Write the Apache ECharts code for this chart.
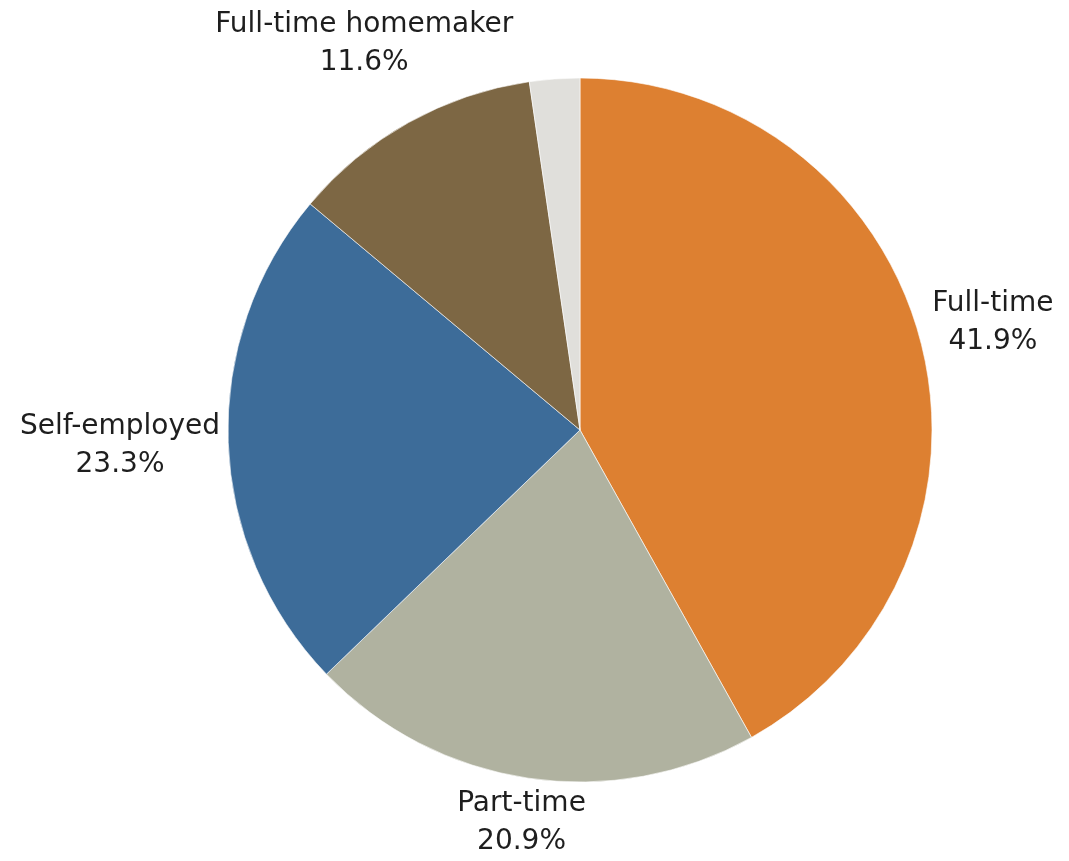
<!DOCTYPE html>
<html>
<head>
<meta charset="utf-8">
<title>Employment status</title>
<script src="https://cdn.jsdelivr.net/npm/echarts@6/dist/echarts.min.js"></script>
<style>
  html, body { margin: 0; padding: 0; background: #fff; }
  #chart { width: 1069px; height: 861px; }
</style>
</head>
<body>
<div id="chart"></div>
<script>
// data
var categories = ['Full-time', 'Part-time', 'Self-employed', 'Full-time homemaker', 'Other']
var shares = [41.9, 20.9, 23.3, 11.6, 2.3]
var showLabel = [true, true, true, true, false]
var colors = ['#dd8031', '#b0b2a0', '#3d6c99', '#7d6744', '#e0dfdb']

// layout
var center = [580, 430]
var radius = 352
var gap = 8

var chart = echarts.init(document.getElementById('chart'))

var pieData = categories.map(function (name, i) {
  return {
    name: name,
    value: shares[i],
    itemStyle: { color: colors[i] },
    label: { show: showLabel[i] }
  }
})

// distance from the pie centre to the nearest point of a box
function boxDist(cx, cy, hw, hh) {
  var nx = Math.max(Math.abs(cx) - hw, 0)
  var ny = Math.max(Math.abs(cy) - hh, 0)
  return Math.sqrt(nx * nx + ny * ny)
}

chart.setOption({
  animation: false,
  series: [
    {
      type: 'pie',
      center: center,
      radius: radius,
      startAngle: 90,
      clockwise: true,
      avoidLabelOverlap: false,
      itemStyle: { borderColor: '#fff', borderWidth: 0.6 },
      label: {
        position: 'outside',
        distanceToLabelLine: 0,
        formatter: function (p) {
          return '{c|' + p.name + '}\n{c|' + p.value.toFixed(1) + '%}'
        },
        rich: {
          c: {
            align: 'center',
            fontFamily: 'DejaVu Sans',
            fontSize: 28,
            lineHeight: 38,
            color: '#1e1e1e'
          }
        }
      },
      labelLine: { show: false, length: 0, length2: 0 },
      // slide each label out along its slice direction until it clears the pie
      labelLayout: function (p) {
        var r = p.labelRect
        if (!r) return {}
        var ax = p.align === 'right' ? r.x + r.width : r.x
        var ay = r.y + r.height / 2
        var ux = ax - center[0]
        var uy = ay - center[1]
        var len = Math.sqrt(ux * ux + uy * uy) || 1
        ux /= len
        uy /= len
        var hw = r.width / 2
        var hh = r.height / 2
        var lo = 0
        var hi = radius * 3
        for (var k = 0; k < 40; k++) {
          var mid = (lo + hi) / 2
          if (boxDist(ux * mid, uy * mid, hw, hh) < radius + gap) lo = mid
          else hi = mid
        }
        return {
          x: center[0] + ux * hi,
          y: center[1] + uy * hi,
          align: 'center',
          verticalAlign: 'middle'
        }
      },
      data: pieData
    }
  ]
})
</script>
</body>
</html>
